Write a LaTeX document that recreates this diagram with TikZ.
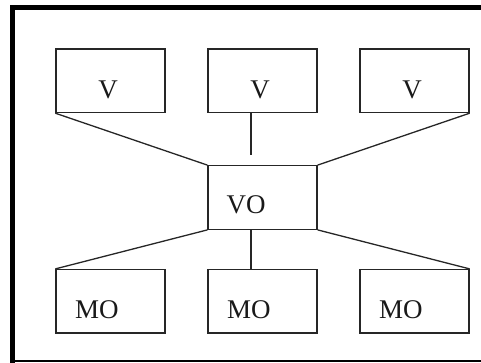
\documentclass[tikz,border=0pt]{standalone}
\usepackage{fontspec}
\setmainfont{Liberation Serif}
\begin{document}
\begin{tikzpicture}[x=1pt,y=-1pt,
  box/.style={draw=black!85, line width=1.3pt, rectangle, inner sep=0pt, minimum width=109pt, minimum height=63.5pt},
  lbl/.style={inner sep=0pt, anchor=base west, font=\fontsize{27}{32}\selectfont, text=black!90},
  conn/.style={draw=black!85, line width=1.3pt},
  frame/.style={draw=black, line cap=rect}]
\useasboundingbox (0,0) rectangle (481,363);
% frame
\draw[frame, line width=5pt] (12.7,363) -- (12.7,7.5) -- (481,7.5);
\draw[black, line width=2pt] (10,361) -- (481,361);
% boxes
\node[box] (v1) at (110.5,80.8) {};
\node[box] (v2) at (262.5,80.8) {};
\node[box] (v3) at (414.5,80.8) {};
\node[box] (vo) at (262.5,197.5) {};
\node[box] (mo1) at (110.5,301.3) {};
\node[box] (mo2) at (262.5,301.3) {};
\node[box] (mo3) at (414.5,301.3) {};
% texts
\node[lbl, anchor=base] (tv1) at (108,99) {V};
\node[lbl, anchor=base] (tv2) at (260,99) {V};
\node[lbl, anchor=base] (tv3) at (412,99) {V};
\node[lbl] (tvo) at (226.5,213) {VO};
\node[lbl] (tmo1) at (75,318) {MO};
\node[lbl] (tmo2) at (227,318) {MO};
\node[lbl] (tmo3) at (379,318) {MO};
% connector ends
\coordinate (v2b) at (251,112.5);
\coordinate (v2e) at (251,155);
\coordinate (vob) at (251,229);
\coordinate (mo2t) at (251,269.5);
% connectors
\draw[conn] (v1.south west) -- (vo.north west);
\draw[conn] (v2b) -- (v2e);
\draw[conn] (v3.south east) -- (vo.north east);
\draw[conn] (vo.south west) -- (mo1.north west);
\draw[conn] (vob) -- (mo2t);
\draw[conn] (vo.south east) -- (mo3.north east);
\end{tikzpicture}
\end{document}
